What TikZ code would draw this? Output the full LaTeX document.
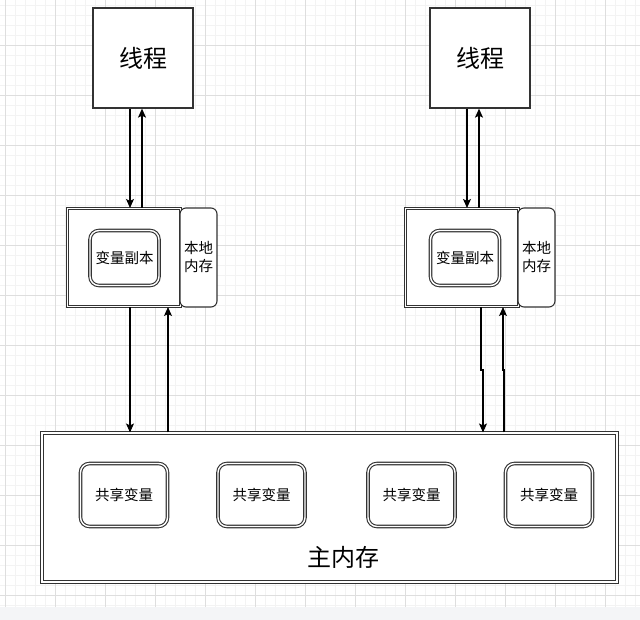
\documentclass[tikz,border=0pt]{standalone}
\usepackage{fontspec}
\setmainfont{Noto Sans CJK SC}
\usepackage{xcolor}
\usepackage{tikz}
\usetikzlibrary{calc,arrows.meta,positioning}
\definecolor{edgec}{HTML}{333333}
\definecolor{gridmaj}{HTML}{DEDEDE}
\definecolor{gridmin}{HTML}{F3F3F3}
\definecolor{stripc}{HTML}{F4F5F7}
\tikzset{
  ar/.style={-{Stealth[length=9pt,width=8pt,inset=2pt]},line width=1.2pt,black},
  thr/.style={draw=edgec,line width=1.3pt,fill=white,minimum width=100pt,minimum height=100pt,font=\fontsize{24}{26}\selectfont},
  dbl/.style={draw=edgec,line width=1.1pt,double=white,double distance=1.4pt,fill=white},
  loc/.style={dbl,minimum width=113pt,minimum height=98pt},
  side/.style={draw=edgec,line width=1.1pt,fill=white,rounded corners=6pt,minimum width=37pt,minimum height=99pt,align=center,font=\fontsize{14.5}{18}\selectfont},
  copyb/.style={dbl,rounded corners=9pt,minimum width=69pt,minimum height=55pt,font=\fontsize{14.5}{16}\selectfont},
  shar/.style={dbl,rounded corners=9pt,minimum width=87pt,minimum height=63pt,font=\fontsize{14.5}{16}\selectfont},
  gmin/.style={gridmin,line width=0.8pt},
  gmaj/.style={gridmaj,line width=0.8pt}
}
\begin{document}
\begin{tikzpicture}[x=1pt,y=-1pt]
\useasboundingbox (0,0) rectangle (640,620);
\fill[white] (0,0) rectangle (640,620);
% grid
\foreach \gx in {5,15,...,635} \draw[gmin] (\gx,0) -- (\gx,607);
\foreach \gy in {5,15,...,605} \draw[gmin] (0,\gy) -- (640,\gy);
\foreach \gx in {5,55,...,605} \draw[gmaj] (\gx,0) -- (\gx,607);
\foreach \gy in {45,95,...,595} \draw[gmaj] (0,\gy) -- (640,\gy);
\fill[stripc] (0,607) rectangle (640,620);
% threads
\node[thr] (thrA) at (143,58) {线程};
\node[thr] (thrB) at (480,58) {线程};
% local memories
\node[loc] (locA) at (124,257.5) {};
\node[side] (memA) at (198.5,257.5) {本地\\内存};
\node[copyb] (varA) at (124.5,258) {变量副本};
\node[loc] (locB) at (462,257.5) {};
\node[side] (memB) at (536.5,257.5) {本地\\内存};
\node[copyb] (varB) at (465,258) {变量副本};
% main memory
\node[dbl,minimum width=575pt,minimum height=149pt] (mainM) at (329.5,507.5) {};
\node[shar] (shr1) at (124,495) {共享变量};
\node[shar] (shr2) at (261.5,495) {共享变量};
\node[shar] (shr3) at (411.5,495) {共享变量};
\node[shar] (shr4) at (549,495) {共享变量};
\node[font=\fontsize{24}{26}\selectfont] (mainT) at (343,557) {主内存};
% thread <-> local
\draw[ar] ([xshift=-13pt]thrA.south) -- ([xshift=-13pt]thrA.south |- locA.north);
\draw[ar] ([xshift=-1pt]thrA.south |- locA.north) -- ([xshift=-1pt]thrA.south);
\draw[ar] ([xshift=-13pt]thrB.south) -- ([xshift=-13pt]thrB.south |- locB.north);
\draw[ar] ([xshift=-1pt]thrB.south |- locB.north) -- ([xshift=-1pt]thrB.south);
% local <-> main
\draw[ar] ([xshift=6pt]locA.south) -- ([xshift=6pt]locA.south |- mainM.north);
\draw[ar] ([xshift=44pt]locA.south |- mainM.north) -- ([xshift=44pt]locA.south);
\coordinate (jog) at (0,370);
\draw[ar] ([xshift=19pt]locB.south) -- ([xshift=19pt]locB.south |- jog)
  -- ([xshift=21pt]locB.south |- jog) -- ([xshift=21pt]locB.south |- mainM.north);
\draw[ar] ([xshift=42pt]locB.south |- mainM.north) -- ([xshift=42pt]locB.south |- jog)
  -- ([xshift=41pt]locB.south |- jog) -- ([xshift=41pt]locB.south);
\end{tikzpicture}
\end{document}
